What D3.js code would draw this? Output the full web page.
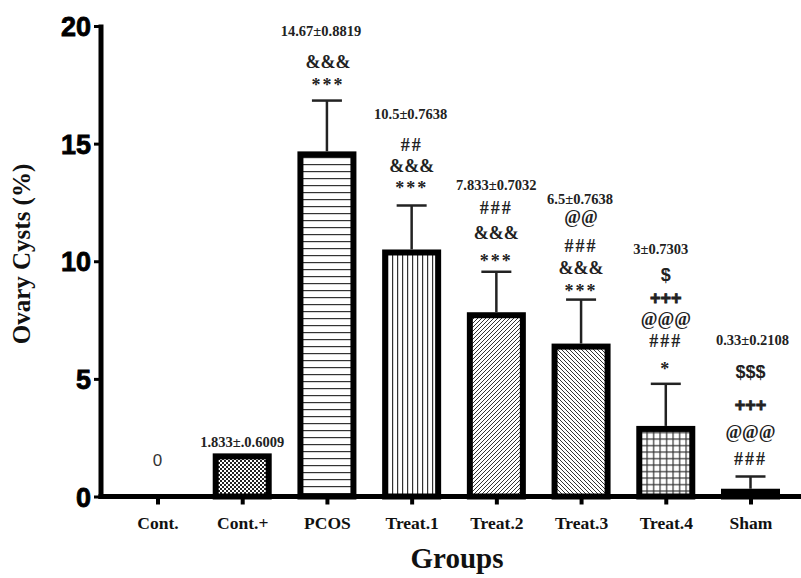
<!DOCTYPE html>
<html>
<head>
<meta charset="utf-8">
<script src="https://cdn.jsdelivr.net/npm/d3@7/dist/d3.min.js"></script>
<style>
  html, body { margin: 0; padding: 0; background: #fff; }
  svg { display: block; }
</style>
</head>
<body>
<svg id="chart" width="801" height="578"></svg>
<script>
// ---------- data ----------
const groups = ["Cont.", "Cont.+", "PCOS", "Treat.1", "Treat.2", "Treat.3", "Treat.4", "Sham"];
const means = [0, 1.833, 14.67, 10.5, 7.833, 6.5, 3, 0.33];
const errors = [0, 0, 2.16, 1.87, 1.72, 1.87, 1.79, 0.52];   // drawn error (SD)
const valueLabels = ["0", "1.833\u00b1.0.6009", "14.67\u00b10.8819", "10.5\u00b10.7638",
  "7.833\u00b10.7032", "6.5\u00b10.7638", "3\u00b10.7303", "0.33\u00b10.2108"];
const sigLabels = [
  [], [],
  ["***", "&&&"],
  ["***", "&&&", "##"],
  ["***", "&&&", "###"],
  ["***", "&&&", "###", "@@"],
  ["*", "###", "@@@", "+++", "$"],
  ["###", "@@@", "+++", "$$$"]
];
const yTicks = [0, 5, 10, 15, 20];
const patterns = ["none", "checker", "hlines", "vlines", "diagR", "diagL", "grid", "solid"];

// ---------- layout ----------
// baseline offsets (px above the error cap) for significance lines and value label
const sigOffsets = [
  [], [],
  [10, 33],
  [11, 33, 54],
  [5, 33, 58],
  [3, 26, 48, 77],
  [9, 37, 59, 80, 103],
  [12, 39, 66, 99]
];
const labelOffsets = [31, 6, 65, 86, 82, 96, 130, 132];
const labelDx = [0, 0, -6, -1, 0, -1, -5, 2];

const svg = d3.select("#chart");
const serif = "'Liberation Serif', 'Times New Roman', serif";
const sans = "'Liberation Sans', Arial, sans-serif";

const x = d3.scalePoint().domain(groups).range([157.5, 750.5]);
const y = d3.scaleLinear().domain([0, 20]).range([496.5, 26]);

// patterns
const defs = svg.append("defs");
function pat(id, w, h, build) {
  const p = defs.append("pattern").attr("id", id).attr("patternUnits", "userSpaceOnUse")
    .attr("width", w).attr("height", h);
  p.append("rect").attr("width", w).attr("height", h).attr("fill", "#fff");
  build(p);
}
pat("checker", 4, 4, p => {
  p.append("rect").attr("x", 0).attr("y", 0).attr("width", 2).attr("height", 2).attr("fill", "#222");
  p.append("rect").attr("x", 2).attr("y", 2).attr("width", 2).attr("height", 2).attr("fill", "#222");
});
pat("hlines", 10, 7, p => {
  p.append("rect").attr("x", 0).attr("y", 3).attr("width", 10).attr("height", 1.2).attr("fill", "#333");
});
pat("vlines", 5, 10, p => {
  p.append("rect").attr("x", 2).attr("y", 0).attr("width", 1.2).attr("height", 10).attr("fill", "#333");
});
pat("diagR", 4, 4, p => {
  p.append("path").attr("d", "M-1,1 L1,-1 M0,4 L4,0 M3,5 L5,3").attr("stroke", "#333").attr("stroke-width", 1);
});
pat("diagL", 4, 4, p => {
  p.append("path").attr("d", "M-1,3 L1,5 M0,0 L4,4 M3,-1 L5,1").attr("stroke", "#333").attr("stroke-width", 1);
});
pat("grid", 6.5, 6.5, p => {
  p.append("rect").attr("x", 3).attr("y", 0).attr("width", 1.2).attr("height", 6.5).attr("fill", "#333");
  p.append("rect").attr("x", 0).attr("y", 3).attr("width", 6.5).attr("height", 1.2).attr("fill", "#333");
});

const data = groups.map((g, i) => ({ g, i, v: means[i], e: errors[i], p: patterns[i] }));

// bars
const barOuter = 59, sw = 6;
svg.append("g").selectAll("rect").data(data.filter(d => d.v > 0)).join("rect")
  .attr("x", d => x(d.g) - barOuter / 2 + sw / 2)
  .attr("y", d => y(d.v) + sw / 2)
  .attr("width", barOuter - sw)
  .attr("height", d => Math.max(0, y(0) - y(d.v) - sw / 2))
  .attr("fill", d => d.p === "solid" ? "#000" : `url(#${d.p})`)
  .attr("stroke", "#000")
  .attr("stroke-width", sw);

// error bars
const eb = svg.append("g").attr("stroke", "#222").attr("stroke-width", 2.5);
data.filter(d => d.e > 0).forEach(d => {
  eb.append("line").attr("x1", x(d.g)).attr("x2", x(d.g))
    .attr("y1", y(d.v)).attr("y2", y(d.v + d.e));
  eb.append("line").attr("x1", x(d.g) - 15).attr("x2", x(d.g) + 15)
    .attr("y1", y(d.v + d.e)).attr("y2", y(d.v + d.e));
});

// axes
const yAxis = d3.axisLeft(y).tickValues(yTicks).tickSize(7).tickPadding(3).tickFormat(d3.format("d"));
const gy = svg.append("g").attr("transform", "translate(101,0)").call(yAxis);
gy.select(".domain").remove();
gy.selectAll(".tick line").attr("stroke", "#000").attr("stroke-width", 3);
gy.selectAll(".tick text").attr("font-family", sans).attr("font-weight", "bold")
  .attr("font-size", 27).attr("fill", "#000").attr("dy", "0.36em")
  .attr("stroke", "#000").attr("stroke-width", 0.8);
svg.append("line").attr("x1", 101).attr("x2", 101).attr("y1", y(20) - 1.5).attr("y2", y(0) + 2.5)
  .attr("stroke", "#000").attr("stroke-width", 5);

const xAxis = d3.axisBottom(x).tickSize(8).tickPadding(8);
const gx = svg.append("g").attr("transform", `translate(0,${y(0)})`).call(xAxis);
gx.select(".domain").remove();
gx.selectAll(".tick line").attr("stroke", "#000").attr("stroke-width", 4);
gx.selectAll(".tick text").attr("font-family", serif).attr("font-weight", "bold")
  .attr("font-size", 17.5).attr("fill", "#111").attr("dy", "0.95em");
svg.append("line").attr("x1", 98.5).attr("x2", 801).attr("y1", y(0)).attr("y2", y(0))
  .attr("stroke", "#000").attr("stroke-width", 5);

// axis titles
svg.append("text").attr("transform", "translate(30,254) rotate(-90)")
  .attr("text-anchor", "middle").attr("font-family", serif).attr("font-weight", "bold")
  .attr("font-size", 25).attr("fill", "#111").text("Ovary Cysts (%)");
svg.append("text").attr("x", 457).attr("y", 568).attr("text-anchor", "middle")
  .attr("font-family", serif).attr("font-weight", "bold").attr("font-size", 29)
  .attr("fill", "#111").text("Groups");

// annotations
const ann = svg.append("g").attr("text-anchor", "middle").attr("fill", "#222");
data.forEach(d => {
  const top = y(d.v + d.e);
  const isZero = d.v === 0;
  ann.append("text")
    .attr("x", x(d.g) + labelDx[d.i])
    .attr("y", top - labelOffsets[d.i])
    .attr("font-family", isZero ? sans : serif)
    .attr("font-weight", isZero ? "normal" : "bold")
    .attr("font-size", isZero ? 17 : 14.5)
    .attr("fill", isZero ? "#333" : "#222")
    .text(valueLabels[d.i]);
  sigLabels[d.i].forEach((s, k) => {
    const c = s[0];
    const isAt = c === "@" || c === "&";
    const useSans = c === "+" || c === "$";
    ann.append("text")
      .attr("x", x(d.g) + (d.i === 2 ? 1 : 0))
      .attr("y", top - sigOffsets[d.i][k])
      .attr("font-family", useSans ? sans : serif).attr("font-weight", "bold")
      .attr("font-size", 18)
      .attr("letter-spacing", isAt ? 0 : (useSans ? 0 : 2))
      .attr("stroke", c === "+" ? "#222" : "none").attr("stroke-width", 0.8)
      .text(s);
  });
});
</script>
</body>
</html>
